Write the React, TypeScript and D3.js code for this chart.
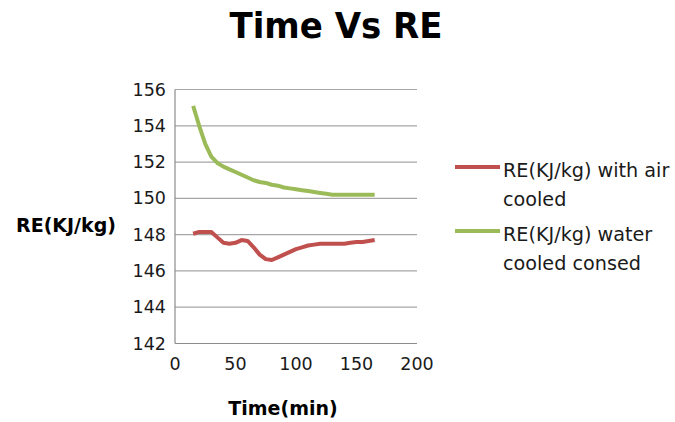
import React from "react";
import * as d3 from "d3";

const times = [15,20,25,30,35,40,45,50,55,60,65,70,75,80,85,90,95,100,105,110,115,120,125,130,135,140,145,150,155,160,165];
const airCooled = [148.05,148.15,148.15,148.15,147.85,147.55,147.5,147.55,147.7,147.65,147.3,146.9,146.65,146.6,146.75,146.9,147.05,147.2,147.3,147.4,147.45,147.5,147.5,147.5,147.5,147.5,147.55,147.6,147.6,147.65,147.7];
const waterCooled = [155.1,154.0,153.0,152.3,151.95,151.75,151.6,151.45,151.3,151.15,151.0,150.9,150.85,150.75,150.7,150.6,150.55,150.5,150.45,150.4,150.35,150.3,150.25,150.2,150.2,150.2,150.2,150.2,150.2,150.2,150.2];
const yTicks = [142,144,146,148,150,152,154,156];
const xTicks = [0,50,100,150,200];
const seriesNames = [["RE(KJ/kg) with air", "cooled"], ["RE(KJ/kg) water", "cooled consed"]];
const colors = ["#c0504d", "#9bbb59"];

export default function App() {
  const W = 675, H = 422;
  const x = d3.scaleLinear().domain([0, 200]).range([175, 417]);
  const y = d3.scaleLinear().domain([142, 156]).range([343.5, 89.5]);
  const line = d3.line<number>().x((_, i) => x(times[i])).y(d => y(d));
  const series = [airCooled, waterCooled];
  const font = "DejaVu Sans, sans-serif";
  return (
    <svg width={W} height={H} style={{ position: "absolute", left: 0, top: 0, background: "#fff" }}>
      <text x={336} y={38} textAnchor="middle" fontFamily={font} fontWeight="bold" fontSize={35} textLength={213} lengthAdjust="spacingAndGlyphs">Time Vs RE</text>
      {yTicks.map(t => (
        <g key={t}>
          {t !== 142 && <line x1={x(0)} x2={x(200)} y1={y(t)} y2={y(t)} stroke="#a6a6a6" strokeWidth={1.2} />}
          <text x={166} y={y(t)} dy="0.35em" textAnchor="end" fontFamily={font} fontSize={17.5} fill="#1a1a1a">{t}</text>
        </g>
      ))}
      <line x1={x(0)} x2={x(0)} y1={y(156)} y2={y(142)} stroke="#8c8c8c" strokeWidth={1.2} />
      <line x1={x(0)} x2={x(200)} y1={y(142)} y2={y(142)} stroke="#8c8c8c" strokeWidth={1.2} />
      {xTicks.map(t => (
        <text key={t} x={x(t)} y={370} textAnchor="middle" fontFamily={font} fontSize={17.5} fill="#1a1a1a">{t}</text>
      ))}
      {series.map((s, i) => (
        <path key={i} d={line(s) || ""} fill="none" stroke={colors[i]} strokeWidth={4} strokeLinejoin="round" />
      ))}
      <text x={66} y={232} textAnchor="middle" fontFamily={font} fontWeight="bold" fontSize={19}>RE(KJ/kg)</text>
      <text x={283} y={415} textAnchor="middle" fontFamily={font} fontWeight="bold" fontSize={19}>Time(min)</text>
      {seriesNames.map((nm, i) => {
        const ly = [167, 231][i];
        return (
          <g key={i}>
            <line x1={455} x2={500} y1={ly} y2={ly} stroke={colors[i]} strokeWidth={4} />
            {nm.map((t, j) => (
              <text key={j} x={503} y={ly + 10 + j * 29} fontFamily={font} fontSize={19.2} fill="#1a1a1a">{t}</text>
            ))}
          </g>
        );
      })}
    </svg>
  );
}
